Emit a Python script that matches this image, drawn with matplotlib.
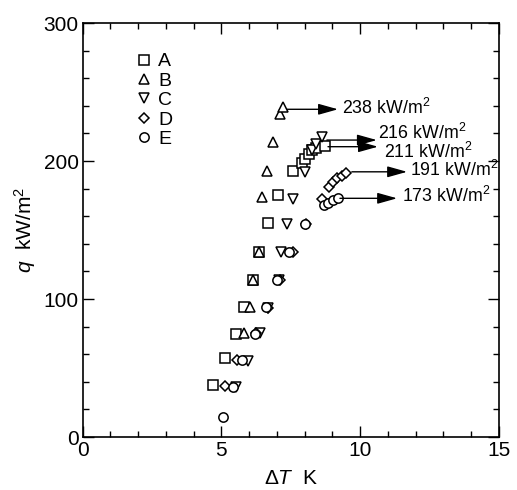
import matplotlib
matplotlib.use("Agg")
import matplotlib.pyplot as plt

plt.rcParams['font.family'] = ['Liberation Sans', 'DejaVu Sans']
plt.rcParams['mathtext.fontset'] = 'custom'
plt.rcParams['mathtext.rm'] = 'Liberation Sans'
plt.rcParams['mathtext.it'] = 'Liberation Sans:italic'

# A - squares
dT_a = [4.68, 5.13, 5.52, 5.81, 6.13, 6.35, 6.67, 7.03, 7.57, 7.90, 8.01, 8.14, 8.26, 8.41, 8.73]
q_a = [37.7, 57.2, 75.0, 94.4, 113.8, 134.3, 155.3, 175.4, 193.0, 198.5, 201.8, 205.0, 208.0, 209.8, 211.2]
# B - triangles up
dT_b = [5.81, 6.03, 6.14, 6.35, 6.45, 6.63, 6.85, 7.11, 7.23]
q_b = [75.1, 94.4, 113.8, 134.3, 174.0, 193.0, 214.0, 234.0, 239.0]
# C - triangles down
dT_c = [5.52, 5.96, 6.39, 6.66, 7.08, 7.13, 7.35, 7.58, 8.01, 8.28, 8.41, 8.61]
q_c = [36.4, 55.3, 75.1, 93.5, 113.8, 134.3, 154.3, 172.5, 192.3, 208.0, 212.3, 217.2]
# D - diamonds
dT_d = [5.13, 5.56, 6.25, 6.67, 7.11, 7.59, 8.04, 8.61, 8.88, 9.03, 9.18, 9.33, 9.50]
q_d = [37.0, 55.8, 75.4, 93.5, 113.8, 134.3, 154.3, 172.5, 181.0, 184.5, 187.5, 189.5, 191.5]
# E - circles
dT_e = [5.06, 5.42, 5.75, 6.22, 6.62, 7.00, 7.45, 8.02, 8.71, 8.85, 9.03, 9.21]
q_e = [14.5, 36.5, 56.0, 75.0, 94.0, 114.0, 134.0, 154.3, 168.0, 169.8, 171.7, 173.4]

series_names = ['A', 'B', 'C', 'D', 'E']
series_markers = ['s', '^', 'v', 'D', 'o']
series_sizes = [7.0, 7.0, 7.0, 5.2, 6.7]

# arrows: label value, arrow start, arrow end, label pos
peak_labels = [238, 216, 211, 191, 173]
arrow_start = [(7.35, 237.5), (8.80, 215.2), (8.84, 210.4), (9.70, 192.2), (9.27, 173.0)]
arrow_end = [(9.20, 237.5), (10.60, 215.2), (10.64, 210.4), (11.69, 192.2), (11.33, 173.0)]
label_pos = [(9.33, 238.5), (10.64, 220.0), (10.86, 206.5), (11.80, 193.5), (11.50, 174.5)]

fig = plt.figure(figsize=(5.17, 4.90), dpi=100)
ax = fig.add_axes([0.160, 0.108, 0.805, 0.845])

all_dT = [dT_a, dT_b, dT_c, dT_d, dT_e]
all_q = [q_a, q_b, q_c, q_d, q_e]
handles = []
for x, y, m, ms in zip(all_dT, all_q, series_markers, series_sizes):
    h, = ax.plot(x, y, linestyle='none', marker=m, markersize=ms,
                 markerfacecolor='white', markeredgecolor='black', markeredgewidth=1.1)
    handles.append(h)

for val, s, e, p in zip(peak_labels, arrow_start, arrow_end, label_pos):
    ax.annotate('', xy=e, xytext=s,
                arrowprops=dict(arrowstyle='-|>,head_length=1.0,head_width=0.28',
                                color='black', lw=1.0, mutation_scale=12,
                                shrinkA=0, shrinkB=0))
    ax.text(p[0], p[1], '%d kW/m$^2$' % val, fontsize=12.8, ha='left', va='center')

ax.legend(handles, series_names, loc='upper left', bbox_to_anchor=(0.123, 0.928),
          frameon=False, fontsize=14, borderpad=0, handlelength=1.0,
          handletextpad=0.25, labelspacing=0.09, borderaxespad=0, numpoints=1)

ax.set_xlim(0, 15)
ax.set_ylim(0, 300)
ax.set_xticks([0, 5, 10, 15])
ax.set_xticks(range(0, 16), minor=True)
ax.set_yticks([0, 100, 200, 300])
ax.set_yticks(range(0, 301, 20), minor=True)
ax.tick_params(which='both', direction='in', top=True, right=True, labelsize=15, width=1.0)
ax.tick_params(which='major', length=8, pad=3)
ax.tick_params(which='minor', length=4.5)
for sp in ax.spines.values():
    sp.set_linewidth(1.2)

ax.set_xlabel(r'$\Delta T$  K', fontsize=15, labelpad=6)
ax.set_ylabel(r'$q$  kW/m$^2$', fontsize=15, labelpad=4)

fig.savefig('out.png', dpi=100)
